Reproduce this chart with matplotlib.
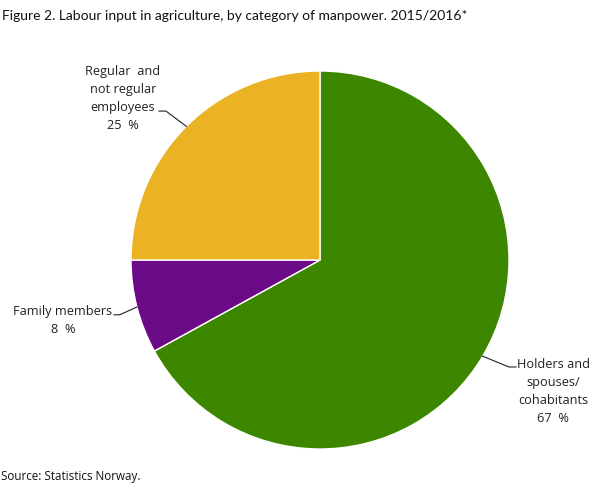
import numpy as np
import matplotlib.pyplot as plt

plt.rcParams['font.family'] = ['Open Sans', 'DejaVu Sans']

categories = ['Holders and\nspouses/\ncohabitants', 'Family members', 'Regular  and\nnot regular\nemployees']
shares = [67, 8, 25]
colors = ['#3d8600', '#6b0a86', '#ebb323']

# label positions in pie units (radius = 1) and elbow points of the leader lines
label_pos = [(1.233, -0.69), (-1.36, -0.317), (-1.042, 0.862)]
elbow = [(1.0, -0.566), (-1.06, -0.29), (-0.815, 0.788)]
tick_end = [(1.037, -0.566), (-1.09, -0.29), (-0.852, 0.788)]

fig = plt.figure(figsize=(6.09, 4.89), dpi=100)
R = 189.0
ax = fig.add_axes([(320 - 200) / 609, (228 - 200) / 489, 400 / 609, 400 / 489])

wedges, _ = ax.pie(shares, colors=colors, startangle=90, counterclock=False,
                   radius=1, wedgeprops=dict(edgecolor='white', linewidth=1))
ax.set_xlim(-200 / R, 200 / R)
ax.set_ylim(-200 / R, 200 / R)
ax.set_aspect('equal')
ax.axis('off')

for w, cat, val, lp, el, te in zip(wedges, categories, shares, label_pos, elbow, tick_end):
    ang = np.deg2rad((w.theta1 + w.theta2) / 2)
    x0, y0 = np.cos(ang), np.sin(ang)
    ax.plot([x0, el[0], te[0]], [y0, el[1], te[1]], color='#222222', lw=0.8,
            clip_on=False)
    ax.text(lp[0], lp[1], f'{cat}\n{val}  %', ha='center', va='center',
            multialignment='center', fontsize=9.2, linespacing=1.5, color='#222222')

fig.text(2 / 609, 1 - 16 / 489, 'Figure 2. Labour input in agriculture, by category of manpower. 2015/2016*',
         fontsize=10.0, va='center', ha='left', color='#111111',
         family=['Lato', 'Open Sans'])
fig.text(1 / 609, 1 - 477 / 489, 'Source: Statistics Norway.', fontsize=8.4,
         va='center', ha='left', color='#111111')

fig.savefig('out.png', dpi=100)
